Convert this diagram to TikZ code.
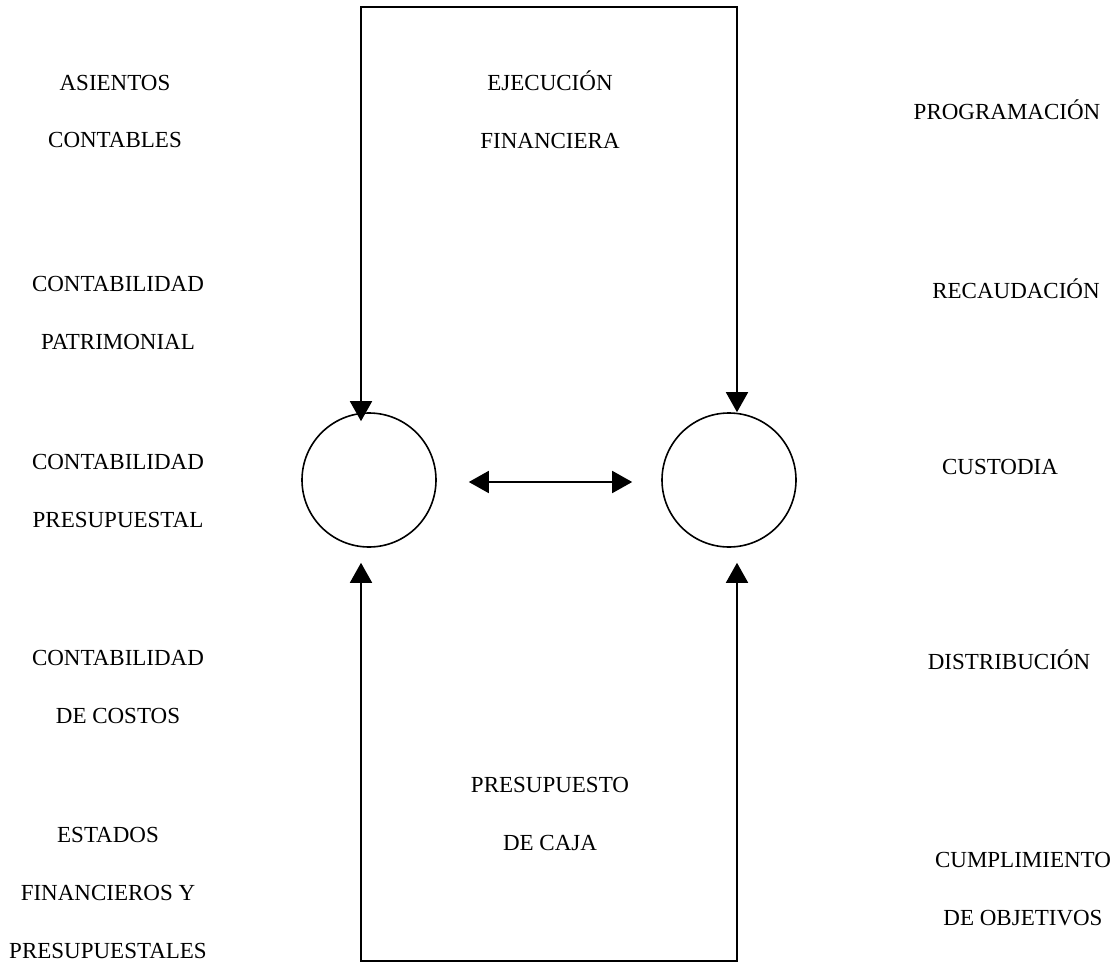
\documentclass[tikz,border=0pt]{standalone}
\usepackage{fontspec}
\setmainfont{Liberation Serif}
\usetikzlibrary{arrows.meta, positioning}

\tikzset{
    etiqueta/.style={align=center, anchor=base, inner sep=0pt, font=\fontsize{23}{58}\selectfont},
    nodo/.style={circle, draw, line width=1.6pt, minimum size=134pt, inner sep=0pt},
    linea/.style={line width=1.7pt, line cap=rect},
    flecha/.style={line width=1.7pt, -{Triangle[width=22pt,length=20pt]}},
}

\begin{document}
\begin{tikzpicture}[x=1pt, y=-1pt]
                \useasboundingbox (0,0) rectangle (1119,963);

                \node[nodo] (izq) at (369, 480) {};
                \node[nodo] (der) at (729, 480) {};

                \coordinate (si) at (361, 7);
                \coordinate (sd) at (737, 7);
                \coordinate (ii) at (361, 961);
                \coordinate (id) at (737, 961);

                \node[etiqueta] (asientos) at (115, 148) {ASIENTOS\\CONTABLES};
                \node[etiqueta] (patrimonial) at (118, 349) {CONTABILIDAD\\PATRIMONIAL};
                \node[etiqueta] (presupuestal) at (118, 527) {CONTABILIDAD\\PRESUPUESTAL};
                \node[etiqueta] (costos) at (118, 723) {CONTABILIDAD\\DE COSTOS};
                \node[etiqueta] (estados) at (108, 958) {ESTADOS\\FINANCIEROS Y\\PRESUPUESTALES};

                \node[etiqueta] (ejecucion) at (550, 149) {EJECUCIÓN\\FINANCIERA};
                \node[etiqueta] (caja) at (550, 850) {PRESUPUESTO\\DE CAJA};

                \node[etiqueta] (programacion) at (1007, 120) {PROGRAMACIÓN};
                \node[etiqueta] (recaudacion) at (1016, 298) {RECAUDACIÓN};
                \node[etiqueta] (custodia) at (1000, 474) {CUSTODIA};
                \node[etiqueta] (distribucion) at (1009, 669) {DISTRIBUCIÓN};
                \node[etiqueta] (cumplimiento) at (1023, 925) {CUMPLIMIENTO\\DE OBJETIVOS};

                \draw[linea] (si) -- (sd);
                \draw[linea] (ii) -- (id);
                \draw[flecha] (si) -- ([yshift=-9pt]si |- izq.north);
                \draw[flecha] (sd) -- (sd |- der.north);
                \draw[flecha] (ii) -- ([yshift=-15pt]ii |- izq.south);
                \draw[flecha] (id) -- ([yshift=-15pt]id |- der.south);
                \draw[flecha, {Triangle[width=22pt,length=20pt]}-{Triangle[width=22pt,length=20pt]}, shorten <=32pt, shorten >=29pt] ([yshift=-2pt]izq.east) -- ([yshift=-2pt]der.west);
            \end{tikzpicture}
\end{document}
